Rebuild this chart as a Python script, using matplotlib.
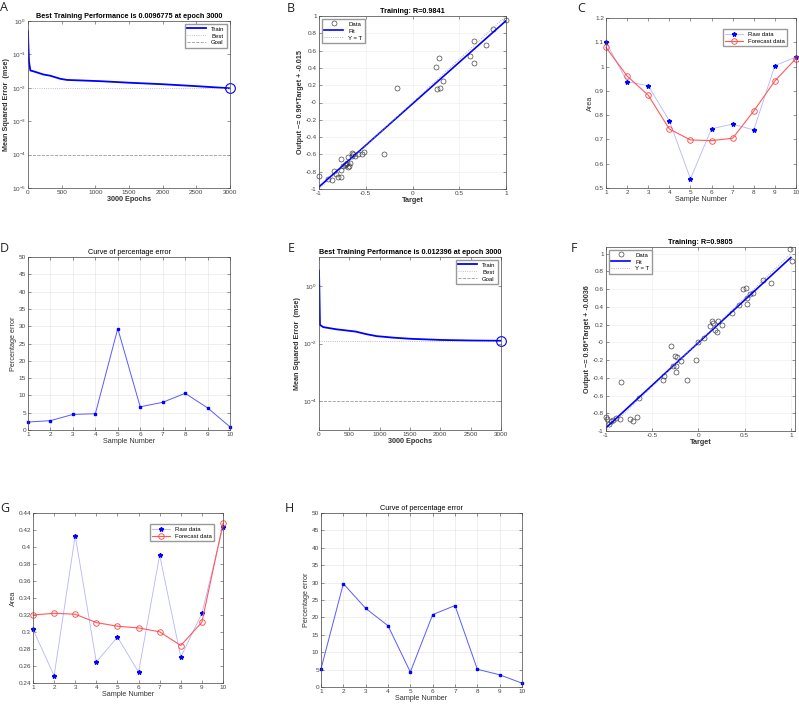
import matplotlib.pyplot as plt
import numpy as np
from matplotlib.ticker import FixedLocator, NullLocator, LogFormatterSciNotation

plt.rcParams["font.family"] = ["Liberation Sans", "DejaVu Sans"]

W, H = 799, 708

# ---- data ----
# A: training performance, run 1
a_epochs = [0, 5, 15, 35, 85, 230, 330, 480, 580, 825, 1070, 1500, 2000, 2500, 3000]
a_mse = [0.5, 0.2, 0.06, 0.033, 0.031, 0.025, 0.023, 0.0186, 0.0172, 0.0165, 0.0158,
         0.0142, 0.0128, 0.0112, 0.0096775]
a_best = 0.0096775
a_goal = 1e-4

# B: regression, run 1
b_target = [-1.0, -0.90, -0.865, -0.836, -0.82, -0.80, -0.77, -0.76, -0.76, -0.74, -0.72,
            -0.70, -0.687, -0.675, -0.668, -0.65, -0.644, -0.633, -0.615, -0.58, -0.544,
            -0.52, -0.30, -0.162, 0.248, 0.287, 0.259, 0.298, 0.323, 0.618, 0.658, 0.654,
            0.79, 0.865, 1.0, -0.71, -0.69]
b_output = [-0.848, -0.89, -0.898, -0.794, -0.83, -0.86, -0.86, -0.655, -0.78, -0.736, -0.72,
            -0.705, -0.628, -0.732, -0.694, -0.582, -0.613, -0.60, -0.617, -0.60, -0.597,
            -0.578, -0.60, 0.162, 0.408, 0.52, 0.154, 0.17, 0.25, 0.54, 0.459, 0.709,
            0.663, 0.855, 0.952, -0.71, -0.745]

# C / D: sample forecast, run 1
samples = list(range(1, 11))
c_raw = [1.101, 0.938, 0.921, 0.777, 0.538, 0.744, 0.763, 0.739, 1.004, 1.039]
c_forecast = [1.079, 0.961, 0.882, 0.743, 0.698, 0.695, 0.705, 0.817, 0.941, 1.033]
d_error = [2.3, 2.7, 4.5, 4.7, 29.3, 6.7, 8.0, 10.6, 6.4, 0.9]

# E: training performance, run 2
e_epochs = [0, 5, 16, 70, 290, 600, 785, 950, 1220, 1500, 2000, 2500, 3000]
e_mse = [3.4, 1.0, 0.044, 0.037, 0.031, 0.026, 0.021, 0.018, 0.016, 0.0146, 0.0133,
         0.0127, 0.012396]
e_best = 0.012396
e_goal = 1e-4

# F: regression, run 2
f_target = [0.99, 1.01, 0.70, 0.79, 0.478, 0.52, 0.586, 0.557, 0.528, 0.438, 0.528, 0.362,
            0.142, 0.124, 0.153, 0.214, 0.25, 0.178, 0.203, 0.063, 0.0, -0.027, -0.128,
            -0.30, -0.254, -0.236, -0.193, -0.243, -0.272, -0.247, -0.369, -0.38, -0.64,
            -0.84, -0.66, -0.74, -0.71, -0.85, -0.89, -0.92, -0.945, -0.985, -1.0, -0.963]
f_output = [1.05, 0.92, 0.707, 0.669, 0.605, 0.613, 0.556, 0.545, 0.5, 0.425, 0.436, 0.331,
            0.237, 0.18, 0.218, 0.237, 0.19, 0.143, 0.117, 0.049, 0.0, -0.195, -0.421,
            -0.045, -0.15, -0.165, -0.214, -0.263, -0.27, -0.338, -0.383, -0.421, -0.628,
            -0.444, -0.846, -0.865, -0.89, -0.865, -0.853, -0.872, -0.89, -0.865, -0.846, -0.92]

# G / H: sample forecast, run 2
g_raw = [0.303, 0.2486, 0.4134, 0.2646, 0.294, 0.2529, 0.3904, 0.2705, 0.322, 0.4236]
g_forecast = [0.320, 0.322, 0.3209, 0.3111, 0.3068, 0.3048, 0.3002, 0.2841, 0.3115, 0.4279]
h_error = [5.2, 29.7, 22.6, 17.6, 4.3, 20.8, 23.4, 5.1, 3.5, 1.1]

TICK = 4.6
LABEL = 5.2
TITLE = 5.2
LEG = 4.3
AX_COLOR = "#444444"

fig = plt.figure(figsize=(W / 100, H / 100), dpi=100)


def make_axes(left, top, right, bottom):
    ax = fig.add_axes([left / W, 1 - bottom / H, (right - left) / W, (bottom - top) / H])
    for s in ax.spines.values():
        s.set_color(AX_COLOR)
        s.set_linewidth(0.5)
    ax.tick_params(direction="in", length=2, width=0.4, labelsize=TICK, colors=AX_COLOR,
                   top=True, right=True, pad=1.5)
    ax.tick_params(which="minor", length=1, width=0.3, direction="in", top=True, right=True)
    return ax


def letter(x, y, s):
    fig.text(x / W, 1 - y / H, s, fontsize=9, family=["Open Sans", "DejaVu Sans"],
             ha="left", va="top", color="#222222")


def perf_panel(ax, epochs, mse, best, goal, ylim, yticks, title):
    ax.semilogy(epochs, mse, color="blue", lw=1.3, label="Train")
    ax.axhline(best, color="#a8a8c8", lw=0.6, ls=":", label="Best")
    ax.axhline(goal, color="#9a9a9a", lw=0.6, ls="--", label="Goal")
    ax.axvline(epochs[-1], color="#a8a8c8", lw=0.6, ls=":")
    ax.plot([epochs[-1]], [best], "o", mfc="none", mec="blue", ms=7, mew=0.8, clip_on=False)
    ax.set_xlim(0, 3000)
    ax.set_ylim(*ylim)
    ax.set_xticks(np.arange(0, 3001, 500))
    ax.yaxis.set_major_locator(FixedLocator(yticks))
    ax.yaxis.set_major_formatter(LogFormatterSciNotation())
    ax.yaxis.set_minor_locator(NullLocator())
    ax.set_xlabel("3000 Epochs", fontsize=LABEL, fontweight="bold", color="#333333", labelpad=1)
    ax.set_ylabel("Mean Squared Error  (mse)", fontsize=LABEL, fontweight="bold",
                  color="#333333", labelpad=1)
    ax.set_title(title, fontsize=TITLE, fontweight="bold", pad=2)
    ax.legend(loc="upper right", fontsize=LEG, frameon=True, fancybox=False, edgecolor="#999999",
              handlelength=3.2, borderpad=0.4, labelspacing=0.3, framealpha=1)


def reg_panel(ax, target, output, slope, offset, xlim, ylim, title, ylabel):
    ax.grid(True, color="#ececec", lw=0.4)
    ax.set_axisbelow(True)
    ax.plot(target, output, "o", mfc="none", mec="#333333", ms=3.6, mew=0.45, label="Data",
            clip_on=False)
    xs = np.array([-1.0, 1.0])
    ax.plot(xs, slope * xs + offset, color="blue", lw=1.2, label="Fit")
    ax.plot(xs, xs, color="#999999", lw=0.6, ls=":", label="Y = T")
    ax.set_xlim(*xlim)
    ax.set_ylim(*ylim)
    ax.set_xticks([-1, -0.5, 0, 0.5, 1])
    ax.set_xticklabels(["-1", "-0.5", "0", "0.5", "1"])
    yt = np.round(np.arange(-1, 1.01, 0.2), 1)
    ax.set_yticks(yt)
    ax.set_yticklabels(["%g" % v for v in yt])
    ax.set_xlabel("Target", fontsize=LABEL, fontweight="bold", color="#333333", labelpad=1)
    ax.set_ylabel(ylabel, fontsize=LABEL, fontweight="bold", color="#333333", labelpad=1)
    ax.set_title(title, fontsize=TITLE, fontweight="bold", pad=2)
    ax.legend(loc="upper left", fontsize=LEG, frameon=True, fancybox=False, edgecolor="#999999",
              handlelength=3.2, borderpad=0.4, labelspacing=0.3, framealpha=1)


def forecast_panel(ax, raw, forecast, ylim, yticks):
    ax.plot(samples, raw, "-", color="#b4b4ff", lw=0.6, marker="*", mfc="blue", mec="blue",
            ms=3.2, label="Raw data", clip_on=False)
    ax.plot(samples, forecast, "-", color="#ff5a5a", lw=0.8, marker="o", mfc="none",
            mec="#ff4040", ms=4, mew=0.6, label="Forecast data", clip_on=False)
    ax.set_xlim(1, 10)
    ax.set_ylim(*ylim)
    ax.set_xticks(samples)
    ax.set_yticks(yticks)
    ax.set_yticklabels(["%g" % v for v in yticks])
    ax.set_xlabel("Sample Number", fontsize=LABEL, color="#333333", labelpad=1)
    ax.set_ylabel("Area", fontsize=LABEL, color="#333333", labelpad=1)
    ax.legend(loc="upper right", fontsize=LEG, frameon=True, fancybox=False, edgecolor="#999999",
              handlelength=3.0, borderpad=0.4, labelspacing=0.3, framealpha=1,
              bbox_to_anchor=(0.97, 0.95))


def error_panel(ax, err):
    ax.grid(True, color="#e4e4e4", lw=0.4)
    ax.set_axisbelow(True)
    ax.plot(samples, err, "-", color="#5a5aff", lw=0.7, marker="s", mfc="blue", mec="blue",
            ms=1.8, clip_on=False)
    ax.set_xlim(1, 10)
    ax.set_ylim(0, 50)
    ax.set_xticks(samples)
    ax.set_yticks(np.arange(0, 51, 5))
    ax.set_xlabel("Sample Number", fontsize=LABEL, color="#333333", labelpad=1)
    ax.set_ylabel("Percentage error", fontsize=LABEL, color="#333333", labelpad=1)
    ax.set_title("Curve of percentage error", fontsize=TITLE, pad=2)


# A
ax = make_axes(28, 21, 230, 188)
perf_panel(ax, a_epochs, a_mse, a_best, a_goal, (1e-5, 1), [1e-5, 1e-4, 1e-3, 1e-2, 1e-1, 1],
           "Best Training Performance is 0.0096775 at epoch 3000")
letter(0, 1, "A")

# B
ax = make_axes(319, 16, 506, 189)
reg_panel(ax, b_target, b_output, 0.96, -0.015, (-1, 1), (-1, 1), "Training: R=0.9841",
          "Output ~= 0.96*Target + -0.015")
letter(287, 2, "B")

# C
ax = make_axes(606, 18, 796, 188)
forecast_panel(ax, c_raw, c_forecast, (0.5, 1.2), [0.5, 0.6, 0.7, 0.8, 0.9, 1, 1.1, 1.2])
letter(577, 2, "C")

# D
ax = make_axes(28, 257, 230, 430)
error_panel(ax, d_error)
letter(0, 242, "D")

# E
ax = make_axes(319, 257, 501, 430)
perf_panel(ax, e_epochs, e_mse, e_best, e_goal, (1e-5, 1e1), [1e-4, 1e-2, 1],
           "Best Training Performance is 0.012396 at epoch 3000")
letter(288, 242, "E")

# F
ax = make_axes(606, 247, 795, 431)
reg_panel(ax, f_target, f_output, 0.96, -0.0036, (-1, 1.045), (-1, 1.075), "Training: R=0.9805",
          "Output ~= 0.96*Target + -0.0036")
letter(571, 242, "F")

# G
ax = make_axes(33, 513, 223, 683)
forecast_panel(ax, g_raw, g_forecast, (0.24, 0.44),
               [0.24, 0.26, 0.28, 0.3, 0.32, 0.34, 0.36, 0.38, 0.4, 0.42, 0.44])
letter(0, 502, "G")

# H
ax = make_axes(321, 513, 522, 687)
error_panel(ax, h_error)
letter(285, 502, "H")

fig.savefig("out.png", dpi=100)
